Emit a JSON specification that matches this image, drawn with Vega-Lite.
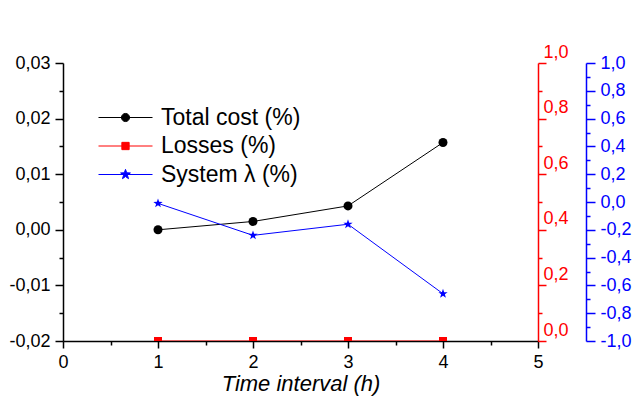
{
  "$schema": "https://vega.github.io/schema/vega-lite/v6.json",
  "width": 475,
  "height": 278,
  "autosize": "none",
  "padding": {"left": 63, "top": 63, "right": 97, "bottom": 62},
  "background": "white",
  "config": {
    "font": "Liberation Sans",
    "view": {"stroke": null},
    "locale": {"number": {"decimal": ",", "thousands": ".", "grouping": [3], "currency": ["", ""], "minus": "-"}},
    "axis": {"grid": false, "labelFontSize": 18, "labelFont": "Liberation Sans", "labelOverlap": false, "labelBound": false, "labelFlush": false, "domainWidth": 1.5, "tickWidth": 1.5}
  },
  "data": {
    "values": [
      {"t": 1, "cost": 0.0, "losses": 0, "lambda": -0.01},
      {"t": 2, "cost": 0.0015, "losses": 0, "lambda": -0.24},
      {"t": 3, "cost": 0.0043, "losses": 0, "lambda": -0.16},
      {"t": 4, "cost": 0.0157, "losses": 0, "lambda": -0.66}
    ]
  },
  "encoding": {
    "x": {
      "field": "t",
      "type": "quantitative",
      "scale": {"domain": [0, 5], "nice": false, "zero": false},
      "axis": {
        "values": [0, 0.5, 1, 1.5, 2, 2.5, 3, 3.5, 4, 4.5, 5],
        "format": ".0f",
        "labelExpr": "abs(datum.value - round(datum.value)) < 0.001 ? datum.label : ''",
        "tickSize": {"condition": {"test": "abs(datum.value - round(datum.value)) < 0.001", "value": 7}, "value": 4},
        "domainColor": "black",
        "tickColor": "black",
        "labelColor": "black",
        "labelPadding": 5,
        "title": "Time interval (h)",
        "titleFontSize": 22,
        "titleFontStyle": "italic",
        "titleFontWeight": "normal",
        "titleColor": "black",
        "titlePadding": 2
      }
    }
  },
  "layer": [
    {
      "encoding": {
        "y": {
          "field": "cost",
          "type": "quantitative",
          "scale": {"domain": [-0.02, 0.03], "nice": false, "zero": false},
          "axis": {
            "orient": "left",
            "values": [-0.02, -0.015, -0.01, -0.005, 0, 0.005, 0.01, 0.015, 0.02, 0.025, 0.03],
            "format": ".2f",
            "labelExpr": "abs(datum.value*100 - round(datum.value*100)) < 0.001 ? datum.label : ''",
            "tickSize": {"condition": {"test": "abs(datum.value*100 - round(datum.value*100)) < 0.001", "value": 8}, "value": 4},
            "domainColor": "black",
            "tickColor": "black",
            "labelColor": "black",
            "labelPadding": 5,
            "title": null
          }
        },
        "color": {
          "datum": "Total cost (%)",
          "type": "nominal",
          "scale": {"domain": ["Total cost (%)", "Losses (%)", "System λ (%)"], "range": ["#000000", "#ff0000", "#0000ff"]},
          "legend": {
            "orient": "none",
            "legendX": 35,
            "legendY": 41,
            "title": null,
            "padding": 0,
            "symbolSize": 2916,
            "clipHeight": 27,
            "rowPadding": 1.5,
            "labelFontSize": 23,
            "labelFont": "Liberation Sans",
            "labelOffset": 8,
            "labelLimit": 300,
            "labelColor": "black",
            "encode": {
              "symbols": {
                "update": {
                  "shape": {"signal": "datum.value == 'Total cost (%)' ? 'M-1,0H1M-0.15,0A0.15,0.15 0 1,1 0.15,0A0.15,0.15 0 1,1 -0.15,0Z' : datum.value == 'Losses (%)' ? 'M-1,0H1M-0.135,-0.135H0.135V0.135H-0.135Z' : 'M-1,0H1M0,-0.19L0.045,-0.062L0.181,-0.059L0.072,0.024L0.112,0.154L0,0.076L-0.112,0.154L-0.072,0.024L-0.181,-0.059L-0.045,-0.062Z'"},
                  "fill": {"scale": "color", "field": "value"},
                  "stroke": {"scale": "color", "field": "value"},
                  "strokeWidth": {"value": 1},
                  "opacity": {"value": 1}
                }
              }
            }
          }
        }
      },
      "layer": [
        {"mark": {"type": "line", "strokeWidth": 1}},
        {"mark": {"type": "point", "shape": "circle", "filled": true, "size": 81, "opacity": 1}}
      ]
    },
    {
      "encoding": {
        "y": {
          "field": "losses",
          "type": "quantitative",
          "scale": {"domain": [0, 1], "nice": false, "zero": false},
          "axis": {
            "orient": "right",
            "values": [0, 0.1, 0.2, 0.3, 0.4, 0.5, 0.6, 0.7, 0.8, 0.9, 1],
            "format": ".1f",
            "labelExpr": "abs(datum.value*5 - round(datum.value*5)) < 0.001 ? datum.label : ''",
            "tickSize": {"condition": {"test": "abs(datum.value*5 - round(datum.value*5)) < 0.001", "value": 8}, "value": 4},
            "domainColor": "#ff0000",
            "tickColor": "#ff0000",
            "labelColor": "#ff0000",
            "labelAlign": "left",
            "labelBaseline": "alphabetic",
            "labelOffset": -6,
            "labelPadding": -3,
            "title": null
          }
        },
        "color": {"datum": "Losses (%)", "type": "nominal"}
      },
      "layer": [
        {"mark": {"type": "line", "strokeWidth": 1, "clip": true}},
        {"mark": {"type": "point", "shape": "square", "filled": true, "size": 64, "opacity": 1, "clip": true}}
      ]
    },
    {
      "encoding": {
        "y": {
          "field": "lambda",
          "type": "quantitative",
          "scale": {"domain": [-1, 1], "nice": false, "zero": false},
          "axis": {
            "orient": "right",
            "offset": 48,
            "values": [-1, -0.9, -0.8, -0.7, -0.6, -0.5, -0.4, -0.3, -0.2, -0.1, 0, 0.1, 0.2, 0.3, 0.4, 0.5, 0.6, 0.7, 0.8, 0.9, 1],
            "format": ".1f",
            "labelExpr": "abs(datum.value*5 - round(datum.value*5)) < 0.001 ? datum.label : ''",
            "tickSize": {"condition": {"test": "abs(datum.value*5 - round(datum.value*5)) < 0.001", "value": 9}, "value": 4},
            "domainColor": "#0000ff",
            "tickColor": "#0000ff",
            "labelColor": "#0000ff",
            "labelAlign": "left",
            "labelPadding": 5,
            "title": null
          }
        },
        "color": {"datum": "System λ (%)", "type": "nominal"}
      },
      "layer": [
        {"mark": {"type": "line", "strokeWidth": 1}},
        {"mark": {"type": "point", "shape": "M0,-1L0.235,-0.324L0.951,-0.309L0.38,0.124L0.588,0.809L0,0.4L-0.588,0.809L-0.38,0.124L-0.951,-0.309L-0.235,-0.324Z", "filled": true, "size": 96, "opacity": 1}}
      ]
    }
  ],
  "resolve": {"scale": {"y": "independent"}}
}
